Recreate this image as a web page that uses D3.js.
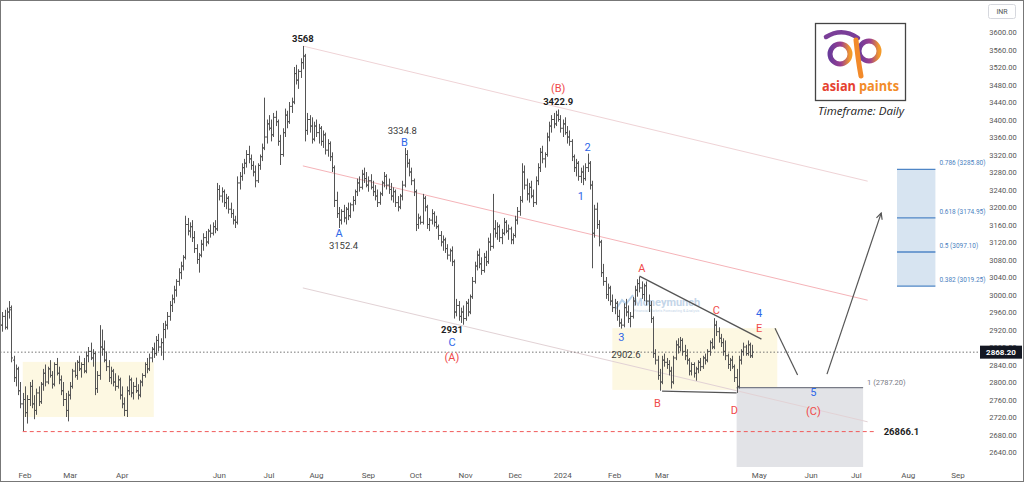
<!DOCTYPE html>
<html>
<head>
<meta charset="utf-8">
<title>Asian Paints - Daily</title>
<script src="https://cdnjs.cloudflare.com/ajax/libs/d3/7.8.5/d3.min.js"></script>
<style>
  html, body { margin: 0; padding: 0; background: #ffffff; }
  svg { display: block; font-family: Roboto, "DejaVu Sans", sans-serif; }
</style>
</head>
<body>
<div id="chart"></div>
<script>
// ---------- data (daily OHLC, one bar per weekday) ----------
const firstBarDate = '2023-01-17';

// Jan 17 - Apr 28 2023 : base
const base2023 = [
  [2935,2950,2910,2930],[2930,2960,2915,2950],[2950,2965,2920,2925],[2925,2970,2920,2960],[2960,2985,2945,2970],
  [2965,2975,2845,2855],[2850,2860,2800,2810],[2810,2840,2790,2830],[2830,2835,2770,2780],[2780,2800,2740,2750],
  [2750,2775,2688,2760],[2760,2790,2720,2730],[2730,2770,2705,2760],[2760,2800,2745,2790],[2790,2805,2740,2750],
  [2750,2770,2715,2735],[2735,2785,2725,2775],[2775,2790,2745,2755],[2755,2800,2750,2795],[2795,2830,2780,2820],
  [2820,2840,2790,2800],[2800,2835,2795,2830],[2830,2850,2810,2815],[2815,2825,2785,2795],[2795,2845,2790,2840],
  [2840,2855,2815,2820],[2820,2835,2795,2805],[2805,2815,2770,2780],[2780,2800,2745,2760],[2760,2775,2720,2735],
  [2735,2780,2710,2770],[2770,2800,2760,2790],[2790,2830,2785,2825],[2825,2845,2810,2815],[2815,2850,2805,2845],
  [2845,2860,2825,2830],[2830,2845,2810,2840],[2840,2855,2820,2825],[2825,2870,2820,2860],[2860,2880,2845,2870],
  [2870,2890,2850,2855],[2855,2875,2835,2865],[2865,2870,2770,2785],[2785,2825,2775,2815],[2815,2930,2805,2880],
  [2880,2920,2860,2875],[2875,2895,2845,2850],[2850,2870,2825,2835],[2835,2850,2800,2810],[2810,2835,2795,2825],
  [2825,2830,2790,2800],[2800,2820,2780,2790],[2790,2815,2785,2805],[2805,2810,2760,2770],[2770,2790,2740,2750],
  [2750,2765,2722,2735],[2735,2790,2720,2780],[2780,2815,2770,2805],[2805,2810,2765,2775],[2775,2800,2760,2790],
  [2790,2810,2775,2780],[2780,2795,2760,2770],[2770,2805,2765,2800],[2800,2820,2790,2815],[2815,2845,2810,2840],
  [2840,2855,2820,2830],[2830,2865,2825,2855],[2855,2880,2845,2875],[2875,2890,2855,2865],[2865,2905,2860,2895],
  [2895,2910,2870,2880],[2880,2900,2860,2890],[2890,2935,2850,2920],[2920,2940,2900,2930]
];

// May - Jul 2023 : rally to 3568
const rally2023 = [
  [2930,2960,2920,2950],[2950,2985,2940,2975],[2975,3000,2960,2990],[2990,3020,2980,3010],[3010,3035,2995,3030],
  [3030,3060,3020,3050],[3050,3075,3035,3065],[3065,3090,3055,3085],[3085,3180,3080,3160],[3160,3175,3135,3145],
  [3145,3165,3130,3155],[3155,3170,3120,3130],[3130,3145,3095,3105],[3105,3115,3070,3080],[3080,3095,3050,3090],
  [3090,3125,3085,3115],[3115,3140,3100,3130],[3130,3145,3110,3120],[3120,3150,3115,3145],[3145,3160,3130,3140],
  [3140,3165,3135,3155],[3155,3170,3140,3150],[3150,3255,3145,3240],[3240,3250,3215,3225],[3225,3245,3210,3235],
  [3235,3240,3200,3210],[3210,3230,3195,3220],[3220,3225,3185,3195],[3195,3210,3175,3185],[3185,3195,3160,3170],
  [3170,3180,3152,3165],[3165,3270,3160,3255],[3255,3280,3240,3270],[3270,3300,3260,3290],[3290,3310,3275,3300],
  [3300,3330,3290,3320],[3320,3340,3300,3310],[3310,3320,3285,3295],[3295,3305,3270,3280],[3280,3295,3245,3260],
  [3260,3300,3255,3295],[3295,3320,3285,3315],[3315,3345,3305,3335],[3335,3450,3330,3360],[3360,3400,3345,3390],
  [3390,3410,3375,3380],[3380,3400,3350,3365],[3365,3415,3360,3405],[3405,3420,3385,3395],[3395,3400,3340,3350],
  [3350,3365,3296,3320],[3320,3380,3315,3370],[3370,3425,3360,3410],[3410,3420,3380,3395],[3395,3440,3390,3430],
  [3430,3450,3415,3440],[3440,3520,3435,3505],[3505,3525,3480,3490],[3490,3515,3470,3510],[3510,3540,3495,3530],
  [3530,3568,3515,3545],[3545,3550,3350,3375],[3375,3415,3365,3400],[3400,3410,3370,3385],[3385,3405,3345,3355],
  [3355,3395,3350,3385]
];

// Aug - Nov 2023 : A-B-C down to 2931
const swing2023 = [
  [3385,3400,3360,3370],[3370,3390,3345,3380],[3380,3385,3340,3350],[3350,3375,3335,3365],[3365,3370,3320,3330],
  [3330,3355,3315,3345],[3345,3350,3305,3315],[3315,3325,3280,3290],[3290,3295,3200,3215],[3215,3235,3175,3185],
  [3185,3200,3152,3170],[3170,3195,3160,3190],[3190,3205,3165,3175],[3175,3200,3160,3195],[3195,3210,3170,3180],
  [3180,3210,3175,3205],[3205,3225,3190,3215],[3215,3240,3205,3235],[3235,3265,3225,3255],[3255,3270,3235,3245],
  [3245,3285,3240,3275],[3275,3290,3255,3265],[3265,3280,3245,3250],[3250,3270,3235,3260],[3260,3275,3240,3245],
  [3245,3260,3225,3235],[3235,3250,3215,3225],[3225,3240,3200,3210],[3210,3235,3205,3230],[3230,3260,3225,3255],
  [3255,3280,3245,3270],[3270,3275,3240,3250],[3250,3265,3230,3240],[3240,3255,3215,3225],[3225,3245,3210,3235],
  [3235,3240,3200,3210],[3210,3225,3190,3200],[3200,3230,3195,3225],[3225,3260,3215,3250],[3250,3335,3245,3320],
  [3320,3330,3290,3300],[3300,3310,3270,3280],[3280,3290,3250,3260],[3260,3265,3225,3235],[3235,3240,3145,3160],
  [3160,3185,3150,3175],[3175,3180,3160,3165],[3165,3230,3160,3220],[3220,3225,3190,3200],[3200,3205,3150,3160],
  [3160,3175,3145,3170],[3170,3195,3160,3185],[3185,3190,3155,3165],[3165,3180,3150,3155],[3155,3160,3125,3135],
  [3135,3145,3110,3120],[3120,3135,3100,3125],[3125,3130,3095,3105],[3105,3115,3080,3090],[3090,3105,3075,3100],
  [3100,3110,3065,3075],[3075,3080,2945,2960],[2960,2990,2950,2975],[2975,2985,2940,2950],[2950,2970,2935,2960],
  [2960,2975,2931,2945],[2945,2985,2940,2980],[2980,2990,2950,2960],[2960,3000,2955,2995],[2995,3040,2990,3030],
  [3030,3075,3025,3065],[3065,3100,3055,3090],[3090,3105,3060,3070],[3070,3085,3045,3055],[3055,3095,3050,3085],
  [3085,3100,3065,3075],[3075,3130,3070,3120],[3120,3140,3100,3110],[3110,3230,3105,3150],[3150,3170,3130,3140],
  [3140,3165,3125,3155],[3155,3160,3120,3130],[3130,3150,3115,3140],[3140,3175,3135,3165],[3165,3170,3140,3145],
  [3145,3160,3125,3150],[3150,3155,3115,3125],[3125,3140,3115,3135]
];

// Dec 2023 - Apr 2024 : (B) at 3422.9, then the slide and triangle
const slide2024 = [
  [3135,3180,3130,3170],[3170,3200,3160,3190],[3190,3225,3180,3215],[3215,3300,3210,3280],[3280,3295,3240,3250],
  [3250,3265,3215,3230],[3230,3255,3210,3245],[3245,3260,3220,3225],[3225,3240,3200,3210],[3210,3270,3205,3260],
  [3260,3300,3250,3290],[3290,3335,3280,3325],[3325,3340,3300,3310],[3310,3325,3290,3320],[3320,3370,3315,3360],
  [3360,3395,3350,3385],[3385,3410,3370,3400],[3400,3415,3380,3390],[3390,3420,3385,3410],[3410,3423,3395,3400],
  [3400,3410,3370,3380],[3380,3400,3360,3390],[3390,3405,3365,3370],[3370,3385,3345,3360],[3360,3375,3340,3350],
  [3350,3355,3305,3315],[3315,3320,3280,3290],[3290,3310,3270,3300],[3300,3305,3260,3270],[3270,3290,3255,3280],
  [3280,3295,3250,3265],[3265,3300,3260,3290],[3290,3322,3280,3300],[3300,3305,3240,3250],[3250,3260,3060,3140],
  [3140,3205,3130,3195],[3195,3210,3150,3160],[3160,3170,3110,3120],[3120,3125,3040,3050],[3050,3070,3020,3030],
  [3030,3040,2990,3000],[3000,3025,2985,3015],[3015,3020,2975,2985],[2985,3000,2960,2970],[2970,2990,2955,2980],
  [2980,2985,2940,2950],[2950,2965,2926,2935],[2935,2945,2922,2930],[2930,2980,2925,2970],[2970,2990,2950,2960],
  [2960,2975,2935,2945],[2945,2960,2925,2950],[2950,2995,2945,2985],[2985,3020,2975,3010],[3010,3035,2995,3025],
  [3025,3040,3005,3015],[3015,3030,2990,3000],[3000,3025,2985,3020],[3020,3030,2975,2985],[2985,3000,2960,2975],
  [2975,2985,2935,2945],[2945,2950,2855,2865],[2865,2875,2840,2850],[2850,2860,2805,2815],[2815,2830,2780,2800],
  [2800,2860,2795,2850],[2850,2865,2835,2845],[2845,2855,2830,2840],[2840,2850,2815,2825],[2825,2835,2785,2800],
  [2800,2860,2795,2855],[2855,2895,2850,2885],[2885,2900,2865,2880],[2880,2903,2870,2895],[2895,2900,2860,2870],
  [2870,2885,2850,2860],[2860,2875,2840,2850],[2850,2855,2815,2825],[2825,2845,2815,2840],[2840,2845,2810,2820],
  [2820,2835,2803,2830],[2830,2850,2820,2845],[2845,2855,2825,2835],[2835,2860,2830,2855],[2855,2865,2840,2850],
  [2850,2875,2845,2870],[2870,2895,2860,2890],[2890,2900,2875,2880],[2880,2946,2875,2930],[2930,2940,2905,2915],
  [2915,2925,2890,2900],[2900,2910,2880,2890],[2890,2900,2860,2870],[2870,2895,2850,2860],[2860,2865,2830,2840],
  [2840,2855,2825,2850],[2850,2860,2830,2835],[2835,2840,2800,2810],[2810,2830,2775,2790],[2790,2860,2785,2850],
  [2850,2875,2840,2870],[2870,2890,2860,2880],[2880,2885,2860,2865],[2865,2895,2860,2885],[2885,2890,2855,2860],
  [2860,2885,2855,2868.2]
];

const lastPrice = 2868.20;
const priceTicks = d3.range(2600, 3601, 40);
const monthTicks = [
  ['2023-02-01','Feb'],['2023-03-01','Mar'],['2023-04-01','Apr'],['2023-06-01','Jun'],['2023-07-01','Jul'],
  ['2023-08-01','Aug'],['2023-09-01','Sep'],['2023-10-01','Oct'],['2023-11-01','Nov'],['2023-12-01','Dec'],
  ['2024-01-01','2024'],['2024-02-01','Feb'],['2024-03-01','Mar'],['2024-05-01','May'],['2024-06-01','Jun'],
  ['2024-07-01','Jul'],['2024-08-01','Aug'],['2024-09-01','Sep']
];

// drawings: [date, price]
const channelTop = [['2023-07-24', 3568], ['2024-07-08', 3259]];
const channelMid = [['2023-07-24', 3294], ['2024-07-08', 2987]];
const channelLow = [['2023-07-24', 3015], ['2024-07-08', 2709]];
const baseZone = [['2023-01-31', 2720], ['2023-04-21', 2846]];
const triangleZone = [['2024-01-31', 2782], ['2024-05-13', 2923]];
const triangleUpper = [['2024-02-16', 3042], ['2024-05-02', 2898]];
const triangleLower = [['2024-03-01', 2779], ['2024-04-17', 2775]];
const pathDown = [['2024-05-10', 2923], ['2024-05-24', 2816]];
const pathUp = [['2024-06-12', 2818], ['2024-07-16', 3186]];
const support = { from: '2023-01-31', to: '2024-07-12', price: 2686.61, label: '26866.1' };
const targetZone = { from: '2024-04-17', to: '2024-07-04', top: 2787.20, bottom: 2560, label: '1 (2787.20)' };
const fibRange = ['2024-07-25', '2024-08-19'];
const fibLevels = [[0.786, 3285.80], [0.618, 3174.95], [0.5, 3097.10], [0.382, 3019.25]];

// wave counts: [text, date, price]
const minorWaves = [
  ['A','2023-08-15',3141],['B','2023-09-25',3349],['C','2023-10-24',2891],
  ['1','2024-01-11',3225],['2','2024-01-16',3337],['3','2024-02-06',2903],
  ['4','2024-05-01',2958],['5','2024-06-04',2777]
];
const majorWaves = [
  ['(A)','2023-10-24',2857],['(B)','2023-12-28',3472],['A','2024-02-19',3061],['B','2024-02-28',2752],
  ['C','2024-04-04',2965],['D','2024-04-16',2736],['E','2024-05-01',2923],['(C)','2024-06-04',2734]
];
const pivotMajor = [['3568','2023-07-24',3586],['2931','2023-10-24',2919],['3422.9','2023-12-28',3440]];
const pivotMinor = [['3334.8','2023-09-22',3374],['3152.4','2023-08-17',3111],['2902.6','2024-02-08',2862]];

// ---------- layout ----------
const W = 1024, H = 483;
const paneW = 978, paneH = 467;
const parse = d3.timeParse('%Y-%m-%d');
const days = d3.timeDay.range(parse('2023-01-02'), parse('2024-10-01')).filter(d => d.getDay() % 6 !== 0);
const idx = s => d3.bisectLeft(days, parse(s));

const x = d3.scaleLinear().domain([idx('2023-02-01'), idx('2024-09-02')]).range([25, 958]);
const y = d3.scaleLinear().domain([2600, 3600]).range([469.5, 32]);
const xd = s => x(idx(s));

const start = idx(firstBarDate);
const bars = [...base2023, ...rally2023, ...swing2023, ...slide2024]
  .map((b, k) => ({ i: start + k, o: b[0], h: b[1], l: b[2], c: b[3] }));

const svg = d3.select('#chart').append('svg').attr('width', W).attr('height', H);
const defs = svg.append('defs');
defs.append('clipPath').attr('id', 'pane').append('rect').attr('width', paneW).attr('height', paneH);
defs.append('clipPath').attr('id', 'axisClip').append('rect').attr('x', paneW).attr('width', W - paneW).attr('height', paneH);
defs.append('marker').attr('id', 'arrow').attr('viewBox', '0 0 8 8').attr('refX', 7).attr('refY', 4)
  .attr('markerWidth', 8).attr('markerHeight', 8).attr('markerUnits', 'userSpaceOnUse').attr('orient', 'auto')
  .append('path').attr('d', 'M1,1 L7,4 L1,7').attr('fill', 'none').attr('stroke', '#555').attr('stroke-width', 1.2);

const pane = svg.append('g').attr('clip-path', 'url(#pane)');
const line = d3.line().x(p => xd(p[0])).y(p => y(p[1]));

function box(g, d0, d1, p0, p1, fill) {
  return g.append('rect')
    .attr('x', xd(d0)).attr('width', xd(d1) - xd(d0))
    .attr('y', y(p1)).attr('height', y(p0) - y(p1))
    .attr('fill', fill);
}
function seg(g, pts, stroke, w, dash) {
  return g.append('path').attr('d', line(pts)).attr('fill', 'none')
    .attr('stroke', stroke).attr('stroke-width', w).attr('stroke-dasharray', dash || null);
}

// zones
box(pane, baseZone[0][0], baseZone[1][0], baseZone[0][1], baseZone[1][1], '#fdf8e2');
box(pane, triangleZone[0][0], triangleZone[1][0], triangleZone[0][1], triangleZone[1][1], '#fdf8e2');
box(pane, targetZone.from, targetZone.to, targetZone.bottom, targetZone.top, '#e2e3e7');
seg(pane, [[targetZone.from, targetZone.top], [targetZone.to, targetZone.top]], '#787b86', 1.3);

// fib retracement box
box(pane, fibRange[0], fibRange[1], fibLevels[3][1], fibLevels[0][1], '#d7e4f1');
fibLevels.forEach(f => seg(pane, [[fibRange[0], f[1]], [fibRange[1], f[1]]], '#4f86c6', 1.3));

// channel
seg(pane, channelTop, '#efd3d6', 1);
seg(pane, channelMid, '#f5b3b8', 1);
seg(pane, channelLow, '#e2d2d5', 1);

// last price dotted line and support level
pane.append('line').attr('x1', 0).attr('x2', paneW).attr('y1', y(lastPrice)).attr('y2', y(lastPrice))
  .attr('stroke', '#666').attr('stroke-dasharray', '1.5,2').attr('stroke-width', 0.9);
seg(pane, [[support.from, support.price], [support.to, support.price]], '#f05b5b', 1, '4,3');

// watermark
const wm = pane.append('g').attr('opacity', 0.55);
wm.append('path').attr('d', 'M616,309 L622,300 L626,304 L633,295').attr('fill', 'none').attr('stroke', '#7fb0e0').attr('stroke-width', 2);
wm.append('text').attr('x', 633).attr('y', 306).attr('font-size', 11).attr('font-weight', 700).attr('fill', '#93b4d6').text('Moneymunch');
wm.append('text').attr('x', 634).attr('y', 312).attr('font-size', 3.6).attr('fill', '#93b4d6').text('Financial Markets Forecasting & Analysis');

// OHLC bars
pane.append('g').selectAll('path').data(bars).join('path')
  .attr('d', d => {
    const cx = Math.round(x(d.i)) + 0.5;
    return `M${cx},${y(d.h)}V${y(d.l)}M${cx - 1.5},${y(d.o)}H${cx}M${cx},${y(d.c)}H${cx + 1.5}`;
  })
  .attr('fill', 'none').attr('stroke', '#555').attr('stroke-width', 1);

// triangle and projected path
seg(pane, triangleUpper, '#555', 1.3);
seg(pane, triangleLower, '#555', 1.3);
seg(pane, pathDown, '#555', 1.2);
seg(pane, pathUp, '#555', 1.2).attr('marker-end', 'url(#arrow)');

// wave labels
const labels = pane.append('g').attr('text-anchor', 'middle');
function addLabels(list, size, fill, weight) {
  labels.selectAll(null).data(list).join('text')
    .attr('x', d => xd(d[1])).attr('y', d => y(d[2]) + size * 0.36)
    .attr('font-size', size).attr('fill', fill).attr('font-weight', weight)
    .text(d => d[0]);
}
addLabels(minorWaves, 11, '#2f67e8', 400);
addLabels(majorWaves, 11, '#f04a4a', 400);
addLabels(pivotMajor, 9.5, '#1e1e1e', 700);
addLabels(pivotMinor, 9.5, '#3c3c3c', 400);

// drawing labels that run past the pane
svg.append('text').attr('x', xd(targetZone.to) + 4).attr('y', y(targetZone.top) - 3)
  .attr('font-size', 7.5).attr('fill', '#787b86').text(targetZone.label);
svg.append('text').attr('x', xd(support.to) + 7).attr('y', y(support.price) + 3.5)
  .attr('font-size', 9.5).attr('font-weight', 700).attr('fill', '#1e1e1e').text(support.label);
svg.append('g').selectAll('text').data(fibLevels).join('text')
  .attr('x', xd(fibRange[1]) + 4).attr('y', d => y(d[1]) - 4)
  .attr('font-size', 6.5).attr('fill', '#4a7fc0')
  .text(d => `${d[0]} (${d[1].toFixed(2)})`);

// price axis
const axis = svg.append('g').attr('clip-path', 'url(#axisClip)');
axis.selectAll('text').data(priceTicks).join('text')
  .attr('x', 1003).attr('y', d => y(d) + 3).attr('text-anchor', 'middle')
  .attr('font-size', 7.5).attr('fill', '#555')
  .text(d => d.toFixed(2));
axis.append('rect').attr('x', 980).attr('y', y(lastPrice) - 6.5).attr('width', 42).attr('height', 13).attr('fill', '#131722');
axis.append('text').attr('x', 1001).attr('y', y(lastPrice) + 3).attr('text-anchor', 'middle')
  .attr('font-size', 8).attr('font-weight', 700).attr('fill', '#fff').text(lastPrice.toFixed(2));
svg.append('rect').attr('x', 988.5).attr('y', 4.5).attr('width', 27).attr('height', 14).attr('rx', 2)
  .attr('fill', '#fff').attr('stroke', '#d6d8de');
svg.append('text').attr('x', 1002).attr('y', 14).attr('text-anchor', 'middle').attr('font-size', 7).attr('fill', '#555').text('INR');

// time axis
svg.append('g').selectAll('text').data(monthTicks).join('text')
  .attr('x', d => xd(d[0])).attr('y', 478).attr('text-anchor', 'middle')
  .attr('font-size', 8).attr('fill', '#555')
  .text(d => d[1]);

// logo card
const logo = svg.append('g');
logo.append('rect').attr('x', 815.5).attr('y', 23.5).attr('width', 90).attr('height', 77)
  .attr('fill', '#fff').attr('stroke', '#444').attr('stroke-width', 1.3);
const grad = defs.append('linearGradient').attr('id', 'apGrad').attr('x1', '0').attr('x2', '1');
grad.append('stop').attr('offset', '0').attr('stop-color', '#6a3a9a');
grad.append('stop').attr('offset', '0.55').attr('stop-color', '#9b3f8f');
grad.append('stop').attr('offset', '1').attr('stop-color', '#f39a2a');
logo.append('path').attr('d', 'M826,37 Q842,27 858,38').attr('fill', 'none').attr('stroke', '#7a3e98').attr('stroke-width', 4.5).attr('stroke-linecap', 'round');
logo.append('circle').attr('cx', 840).attr('cy', 54).attr('r', 10).attr('fill', 'none').attr('stroke', 'url(#apGrad)').attr('stroke-width', 5);
logo.append('circle').attr('cx', 869).attr('cy', 51).attr('r', 10).attr('fill', 'none').attr('stroke', 'url(#apGrad)').attr('stroke-width', 5);
logo.append('path').attr('d', 'M856,40 Q858,60 861,76').attr('fill', 'none').attr('stroke', '#f28a2a').attr('stroke-width', 5).attr('stroke-linecap', 'round');
logo.append('text').attr('x', 822).attr('y', 91).attr('font-size', 15).attr('font-weight', 700)
  .attr('font-family', '"Open Sans", sans-serif').attr('textLength', 34).attr('lengthAdjust', 'spacingAndGlyphs')
  .attr('fill', '#e5412f').text('asian');
logo.append('text').attr('x', 859).attr('y', 91).attr('font-size', 15).attr('font-weight', 700)
  .attr('font-family', '"Open Sans", sans-serif').attr('textLength', 40).attr('lengthAdjust', 'spacingAndGlyphs')
  .attr('fill', '#f28c28').text('paints');
svg.append('text').attr('x', 818).attr('y', 115).attr('font-size', 10.5).attr('font-style', 'italic')
  .attr('font-family', '"Open Sans", sans-serif').attr('textLength', 86).attr('lengthAdjust', 'spacingAndGlyphs')
  .attr('fill', '#222').text('Timeframe: Daily');

// outer frame
svg.append('rect').attr('x', 0.5).attr('y', 0.5).attr('width', W - 1).attr('height', 481)
  .attr('fill', 'none').attr('stroke', '#777');
</script>
</body>
</html>
